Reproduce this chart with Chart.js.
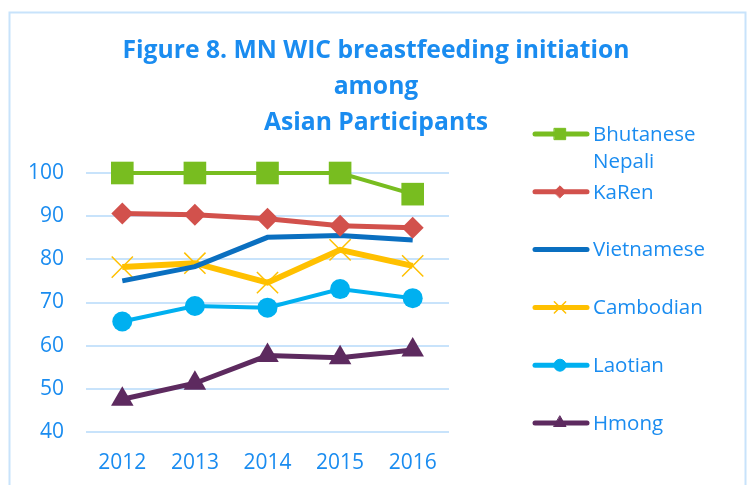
<!DOCTYPE html>
<html>
<head>
<meta charset="utf-8">
<script src="https://cdn.jsdelivr.net/npm/chart.js@4"></script>
<style>
  html, body { margin: 0; padding: 0; background: #fff; }
  #wrap { width: 751px; height: 485px; }
</style>
</head>
<body>
<div id="wrap"><canvas id="chart" width="751" height="485"></canvas></div>
<script>
const years = ['2012', '2013', '2014', '2015', '2016'];
const titleLines = ['Figure 8. MN WIC breastfeeding initiation', 'among', 'Asian Participants'];

const bhutaneseNepali = [100, 100, 100, 100, 95.1];
const karen = [90.6, 90.3, 89.4, 87.8, 87.3];
const vietnamese = [75.0, 78.3, 85.1, 85.5, 84.5];
const cambodian = [78.2, 79.1, 74.6, 82.2, 78.5];
const laotian = [65.6, 69.2, 68.8, 73.1, 71.0];
const hmong = [47.6, 51.3, 57.7, 57.2, 59.0];

const yMin = 40;
const yMax = 100;
const yStep = 10;

const blue = '#1a8cf0';
const gridBlue = '#c8e3fb';
const font = '"Open Sans", Lato, sans-serif';

const datasets = [
  { label: 'Bhutanese Nepali', legendLines: ['Bhutanese', 'Nepali'], data: bhutaneseNepali,
    borderColor: '#78bd20', backgroundColor: '#78bd20', borderWidth: 4,
    pointStyle: 'rect', pointRadius: 16, pointBorderWidth: 0, legendRadius: 8 },
  { label: 'KaRen', data: karen,
    borderColor: '#d2514c', backgroundColor: '#d2514c', borderWidth: 5,
    pointStyle: 'rectRot', pointRadius: 11, pointBorderWidth: 0, legendRadius: 6 },
  { label: 'Vietnamese', data: vietnamese,
    borderColor: '#0a6fc0', backgroundColor: '#0a6fc0', borderWidth: 5,
    pointRadius: 0, legendRadius: 0 },
  { label: 'Cambodian', data: cambodian,
    borderColor: '#ffc000', backgroundColor: '#ffc000', borderWidth: 6,
    pointStyle: 'crossRot', pointRadius: 15, pointBorderWidth: 1.5, legendRadius: 8 },
  { label: 'Laotian', data: laotian,
    borderColor: '#00b0f0', backgroundColor: '#00b0f0', borderWidth: 4,
    pointStyle: 'circle', pointRadius: 10, pointBorderWidth: 0, legendRadius: 6 },
  { label: 'Hmong', data: hmong,
    borderColor: '#5d2a5f', backgroundColor: '#5d2a5f', borderWidth: 5,
    pointStyle: 'triangle', pointRadius: 13, pointBorderWidth: 0, legendRadius: 7 }
];

// frame + title + legend drawn by hand, like the office chart
const decor = {
  id: 'decor',
  beforeDraw(chart) {
    const c = chart.ctx;
    c.save();
    c.strokeStyle = gridBlue;
    c.lineWidth = 2;
    c.strokeRect(9.5, 12.5, 736, 500);
    c.restore();
  },
  afterDraw(chart) {
    const c = chart.ctx;
    c.save();
    c.fillStyle = blue;
    c.textAlign = 'center';
    c.textBaseline = 'middle';
    c.font = 'bold 24.7px ' + font;
    titleLines.forEach((t, i) => c.fillText(t, 376, 51 + i * 36));

    c.textAlign = 'left';
    c.font = '20.5px ' + font;
    chart.data.datasets.forEach((ds, i) => {
      const y = 134 + i * 57.8;
      c.strokeStyle = ds.borderColor;
      c.lineWidth = 5;
      c.lineCap = 'round';
      c.beginPath();
      c.moveTo(535, y);
      c.lineTo(587, y);
      c.stroke();
      if (ds.legendRadius) {
        c.fillStyle = ds.backgroundColor;
        c.strokeStyle = ds.borderColor;
        c.lineWidth = ds.pointBorderWidth || 1;
        Chart.helpers.drawPoint(c, { pointStyle: ds.pointStyle, radius: ds.legendRadius, borderWidth: ds.pointBorderWidth || 1, rotation: 0 }, 560, y);
      }
      c.fillStyle = blue;
      const lines = ds.legendLines || [ds.label];
      lines.forEach((t, j) => c.fillText(t, 593, y + 1 + j * 27));
    });
    c.restore();
  }
};

new Chart(document.getElementById('chart'), {
  type: 'line',
  data: { labels: years, datasets: datasets },
  options: {
    responsive: false,
    animation: false,
    layout: { padding: { top: 173, left: 0, right: 302, bottom: 13 } },
    elements: { line: { tension: 0 } },
    datasets: { line: { clip: false } },
    plugins: {
      legend: { display: false },
      title: { display: false },
      tooltip: { enabled: false }
    },
    scales: {
      x: {
        offset: true,
        grid: { display: false, drawTicks: false },
        border: { display: false },
        ticks: { color: blue, font: { family: font, size: 21 }, padding: 18 },
        afterFit(s) { s.height = 40; }
      },
      y: {
        min: yMin,
        max: yMax,
        grid: { color: gridBlue, lineWidth: 2, drawTicks: false },
        border: { display: false },
        ticks: { stepSize: yStep, color: blue, font: { family: font, size: 21 }, padding: 22 },
        afterFit(s) { s.width = 86; }
      }
    }
  },
  plugins: [decor]
});
</script>
</body>
</html>
